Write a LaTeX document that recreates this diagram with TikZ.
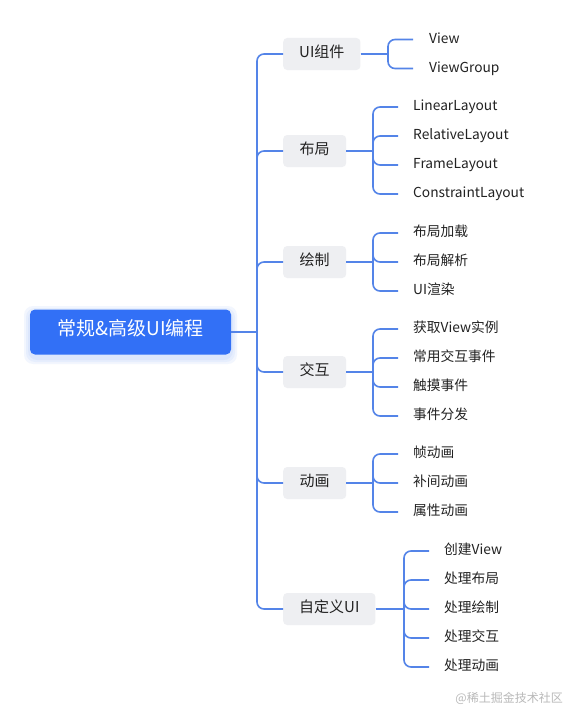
\documentclass[tikz,border=0pt]{standalone}
\usepackage{fontspec}
\setmainfont{Noto Sans CJK SC}

\definecolor{linkblue}{RGB}{84,132,232}
\definecolor{rootblue}{RGB}{50,112,246}
\definecolor{topicgray}{RGB}{238,239,242}
\definecolor{inkgray}{RGB}{34,34,34}

\tikzset{
  link/.style={draw=linkblue, line width=1.6pt, rounded corners=7pt},
  rootbox/.style={fill=rootblue, rounded corners=5pt, minimum width=201pt, minimum height=45pt,
    text=white, font=\fontsize{19}{22}\selectfont, text height=.76em, text depth=0pt},
  glow/.style={fill=rootblue, fill opacity=.06, rounded corners=9pt},
  topic/.style={fill=topicgray, rounded corners=4pt, anchor=west, minimum height=32pt, minimum width=63pt,
    inner xsep=16pt, text=inkgray, font=\fontsize{15}{18}\selectfont, text height=.74em, text depth=0pt},
  leaf/.style={anchor=west, inner sep=0pt, text=inkgray, font=\fontsize{13.75}{16}\selectfont,
    text height=.72em, text depth=0pt},
}

\begin{document}
\begin{tikzpicture}[x=1pt,y=-1pt]
  \useasboundingbox (0,0) rectangle (565,709);
  \fill[white] (0,0) rectangle (565,709);

  % Soft glow under the root
  \foreach \d in {2,4,6}
    \path[glow] (30-\d,309-\d+3) rectangle (231+\d,355+\d+3);

  % Root and trunk
  \node[rootbox] (root) at (130.5,332) {常规\&高级UI编程};
  \coordinate (trunk) at (257,332);
  \draw[link] (root.east) -- (trunk);

  % First level topics
  \node[topic] (ui) at (283,54) {UI组件};
  \node[topic] (layout) at (283,151) {布局};
  \node[topic] (paint) at (283,262) {绘制};
  \node[topic] (touch) at (283,372) {交互};
  \node[topic] (anim) at (283,483) {动画};
  \node[topic] (custom) at (283,609) {自定义UI};
  \foreach \t in {ui,layout,paint,touch,anim,custom}
    \draw[link] (trunk) |- (\t.west);

  % UI components
  \coordinate (ui-b) at (388,54);
  \draw[link] (ui.east) -- (ui-b);
  \foreach \y/\txt [count=\i] in {39.5/View,68.5/ViewGroup} {
    \node[leaf] (ui-\i) at (429,\y) {\txt};
    \draw[link, shorten >=16pt] (ui-b) |- (ui-\i.west);
  }

  % Layouts
  \coordinate (layout-b) at (373,151);
  \draw[link] (layout.east) -- (layout-b);
  \foreach \y/\txt [count=\i] in {107/LinearLayout,136/RelativeLayout,165/FrameLayout,194/ConstraintLayout} {
    \node[leaf] (layout-\i) at (413,\y) {\txt};
    \draw[link, shorten >=15pt] (layout-b) |- (layout-\i.west);
  }

  % Drawing
  \coordinate (paint-b) at (373,262);
  \draw[link] (paint.east) -- (paint-b);
  \foreach \y/\txt [count=\i] in {233/布局加载,262/布局解析,291/UI渲染} {
    \node[leaf] (paint-\i) at (413,\y) {\txt};
    \draw[link, shorten >=15pt] (paint-b) |- (paint-\i.west);
  }

  % Interaction
  \coordinate (touch-b) at (373,372);
  \draw[link] (touch.east) -- (touch-b);
  \foreach \y/\txt [count=\i] in {329/获取View实例,358/常用交互事件,387/触摸事件,416/事件分发} {
    \node[leaf] (touch-\i) at (413,\y) {\txt};
    \draw[link, shorten >=15pt] (touch-b) |- (touch-\i.west);
  }

  % Animation
  \coordinate (anim-b) at (373,483);
  \draw[link] (anim.east) -- (anim-b);
  \foreach \y/\txt [count=\i] in {454/帧动画,483/补间动画,512/属性动画} {
    \node[leaf] (anim-\i) at (413,\y) {\txt};
    \draw[link, shorten >=15pt] (anim-b) |- (anim-\i.west);
  }

  % Custom UI
  \coordinate (custom-b) at (404,609);
  \draw[link] (custom.east) -- (custom-b);
  \foreach \y/\txt [count=\i] in {551/创建View,580/处理布局,609/处理绘制,638/处理交互,667/处理动画} {
    \node[leaf] (custom-\i) at (444,\y) {\txt};
    \draw[link, shorten >=15pt] (custom-b) |- (custom-\i.west);
  }

  % Site mark
  \node[anchor=east, inner sep=0pt, text=gray!55, font=\fontsize{12}{14}\selectfont] (mark) at (563,698) {@稀土掘金技术社区};
\end{tikzpicture}
\end{document}
